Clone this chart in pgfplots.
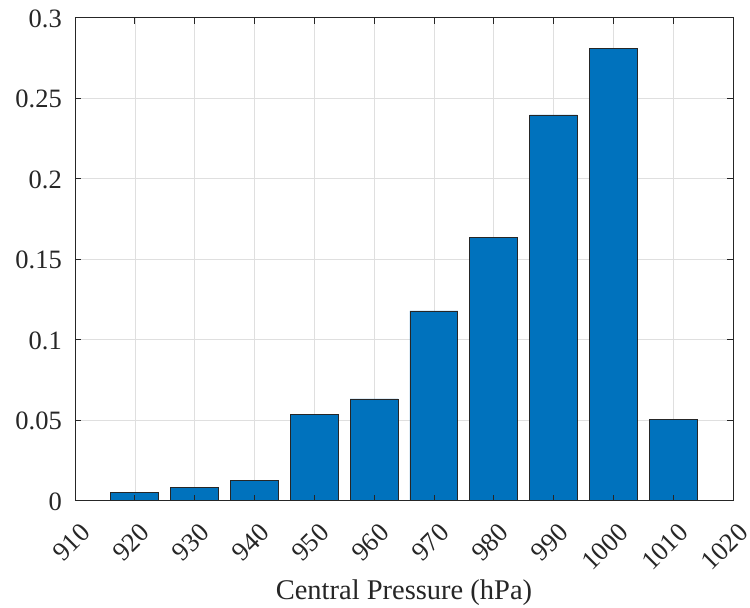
\documentclass[border=0pt]{standalone}
\usepackage{pgfplots}
\pgfplotsset{compat=1.18}
\usepackage{fontspec}
\setmainfont{Liberation Serif}
\definecolor{barblue}{RGB}{0,114,189}
\definecolor{axgray}{RGB}{38,38,38}
\definecolor{gridgray}{RGB}{223,223,223}
\pgfplotsset{
  common/.style={
    at={(0,0)}, anchor=origin,
    scale only axis,
    width=658pt, height=483.2pt,
    xmin=910, xmax=1020, ymin=0, ymax=0.3,
    xtick={910,920,...,1020},
    ytick={0,0.05,0.1,0.15,0.2,0.25,0.3},
    axis line style={axgray, line width=0.8pt},
  }
}
\begin{document}
\begin{tikzpicture}
\useasboundingbox (-75pt,-107.3pt) rectangle (675pt,500.7pt);
% background: grid and bars
\begin{axis}[
  common,
  xticklabels={}, yticklabels={},
  major tick length=0pt,
  grid=major,
  major grid style={gridgray, line width=0.6pt},
]
\addplot[ybar, bar width=47.85pt, fill=barblue, draw=axgray, line width=0.8pt] coordinates {
(920,0.005) (930,0.0083) (940,0.0124) (950,0.0534) (960,0.0632)
(970,0.1178) (980,0.1634) (990,0.2395) (1000,0.2809) (1010,0.0505)
};
\end{axis}
% foreground: ticks, labels, box
\begin{axis}[
  common,
  xticklabels={910,920,930,940,950,960,970,980,990,1000,1010,1020},
  yticklabels={0,0.05,0.1,0.15,0.2,0.25,0.3},
  tick align=inside,
  tick pos=both,
  major tick length=6pt,
  every tick/.style={axgray, line width=0.8pt},
  font=\fontsize{26.5}{30}\selectfont,
  xticklabel style={xshift=4pt, yshift=-21pt, rotate=45, anchor=north east, inner sep=0pt, text=axgray},
  yticklabel style={anchor=east, inner sep=0pt, xshift=-13pt, yshift=-1pt, text=axgray},
  xlabel={Central Pressure (hPa)},
  xlabel style={at={(axis description cs:0.5,0)}, anchor=base, yshift=-99pt, inner sep=0pt, text=axgray, font=\fontsize{28.5}{32}\selectfont},
]
\end{axis}
\end{tikzpicture}
\end{document}
